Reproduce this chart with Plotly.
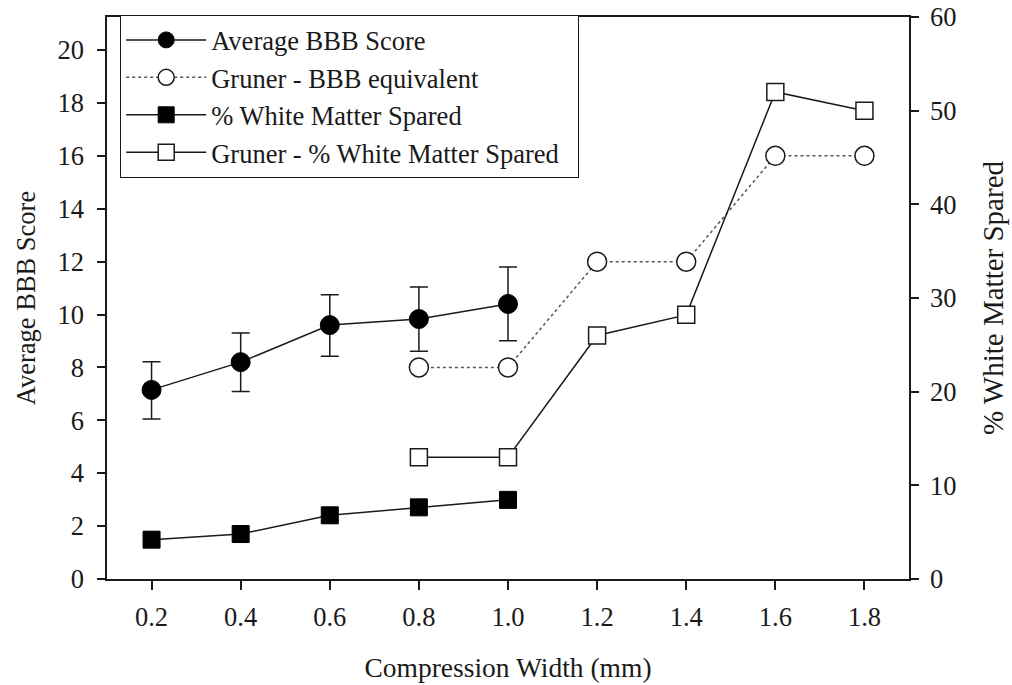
import plotly.graph_objects as go

# Data
x_ours = [0.2, 0.4, 0.6, 0.8, 1.0]
bbb_avg = [7.15, 8.2, 9.6, 9.83, 10.4]
bbb_err_plus = [1.06, 1.1, 1.15, 1.21, 1.4]
bbb_err_minus = [1.1, 1.11, 1.18, 1.22, 1.39]
wm_spared = [4.2, 4.8, 6.8, 7.65, 8.45]

x_gruner = [0.8, 1.0, 1.2, 1.4, 1.6, 1.8]
gruner_bbb = [8, 8, 12, 12, 16, 16]
gruner_wm = [13, 13, 26, 28.2, 52, 50]

series_names = ["Average BBB Score", "Gruner - BBB equivalent",
                "% White Matter Spared", "Gruner - % White Matter Spared"]

x_ticks = [0.2, 0.4, 0.6, 0.8, 1.0, 1.2, 1.4, 1.6, 1.8]
x_ticktext = ["0.2", "0.4", "0.6", "0.8", "1.0", "1.2", "1.4", "1.6", "1.8"]
y_left_ticks = [0, 2, 4, 6, 8, 10, 12, 14, 16, 18, 20]
y_right_ticks = [0, 10, 20, 30, 40, 50, 60]

FONT = "Liberation Serif"
FS = 26.5
INK = "#1a1a1a"
PAD = "\u00a0\u00a0"  # small right padding inside the legend box

fig = go.Figure()

fig.add_trace(go.Scatter(
    x=x_ours, y=bbb_avg, name=series_names[0], mode="lines+markers",
    line=dict(color=INK, width=1.5),
    marker=dict(symbol="circle", size=19, color="black", line=dict(color="black", width=1)),
    error_y=dict(type="data", array=bbb_err_plus, arrayminus=bbb_err_minus,
                 symmetric=False, color=INK, thickness=1.5, width=9),
    legendgroup="a", yaxis="y",
))
fig.add_trace(go.Scatter(
    x=x_gruner, y=gruner_bbb, name=series_names[1], mode="lines+markers",
    line=dict(color="#555555", width=1.5, dash="dot"),
    marker=dict(symbol="circle", size=19, color="white", line=dict(color=INK, width=1.5)),
    legendgroup="b", yaxis="y",
))
fig.add_trace(go.Scatter(
    x=x_ours, y=wm_spared, name=series_names[2], mode="lines+markers",
    line=dict(color=INK, width=1.5),
    marker=dict(symbol="square", size=17, color="black", line=dict(color="black", width=1)),
    legendgroup="c", yaxis="y2",
))
fig.add_trace(go.Scatter(
    x=x_gruner, y=gruner_wm, name=series_names[3] + PAD, mode="lines+markers",
    line=dict(color=INK, width=1.5),
    marker=dict(symbol="square", size=17, color="white", line=dict(color=INK, width=1.5)),
    legendgroup="d", yaxis="y2",
))

axis_common = dict(
    showgrid=False, zeroline=False, showline=True, linecolor=INK, linewidth=1.5,
    ticks="outside", tickcolor=INK, tickwidth=1.5, automargin=False,
    ticklabeloverflow="allow",
    tickfont=dict(family=FONT, size=FS, color=INK),
)

fig.update_layout(
    width=1012, height=685,
    margin=dict(l=107, r=103, t=17, b=106),
    paper_bgcolor="white", plot_bgcolor="white",
    font=dict(family=FONT, size=FS, color=INK),
    showlegend=True,
    legend=dict(
        x=0.0162, y=1.0036, xanchor="left", yanchor="top",
        bordercolor=INK, borderwidth=1.2, bgcolor="white",
        font=dict(family=FONT, size=FS, color=INK),
        traceorder="grouped", tracegroupgap=0, itemwidth=80,
    ),
    xaxis=dict(
        **axis_common, range=[0.1, 1.9], tickvals=x_ticks, ticktext=x_ticktext,
        ticklen=9, mirror=True, ticklabelstandoff=4,
        title=dict(text="Compression Width (mm)", font=dict(family=FONT, size=27.5, color=INK), standoff=27),
    ),
    yaxis=dict(
        **axis_common, range=[0, 21.25], tickvals=y_left_ticks, ticklen=8, ticklabelstandoff=8,
        title=dict(text="Average BBB Score", font=dict(family=FONT, size=FS, color=INK), standoff=14),
    ),
    yaxis2=dict(
        **axis_common, range=[0, 60], tickvals=y_right_ticks, ticklen=8, ticklabelstandoff=6,
        overlaying="y", side="right",
        title=dict(text="% White Matter Spared", font=dict(family=FONT, size=29, color=INK), standoff=27),
    ),
)

fig.write_html("out.html", config={"displayModeBar": False},
               post_script="document.body.style.margin='0';")
